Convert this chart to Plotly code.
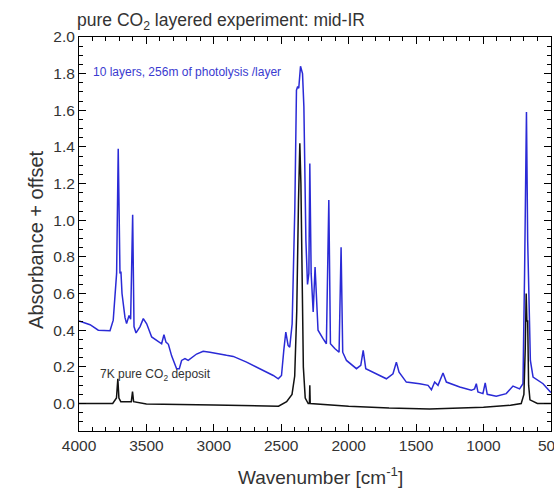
import plotly.graph_objects as go

# ---- data ----
# blue: 10 layers, 256m of photolysis / layer (offset spectrum)
blue_wn = [4000, 3918, 3857, 3770, 3746, 3721, 3709, 3701, 3696, 3689, 3681, 3659, 3647,
           3629, 3617, 3602, 3592, 3577, 3547, 3523, 3498, 3461, 3411, 3387, 3370, 3355,
           3337, 3313, 3276, 3256, 3239, 3214, 3190, 3128, 3079, 3029, 2906, 2856, 2757,
           2658, 2559, 2522, 2498, 2481, 2466, 2449, 2437, 2419, 2399, 2387, 2378, 2370,
           2357, 2342, 2332, 2317, 2305, 2295, 2288, 2278, 2263, 2249, 2239, 2227, 2190,
           2165, 2147, 2135, 2103, 2071, 2056, 2044, 2016, 1942, 1910, 1892, 1873, 1794,
           1720, 1671, 1646, 1626, 1572, 1473, 1411, 1386, 1362, 1337, 1300, 1275, 1176,
           1090, 1066, 1053, 1041, 1004, 987, 972, 905, 831, 781, 732, 707, 695, 681, 672,
           662, 652, 632, 558, 500]
blue_abs = [0.45, 0.43, 0.40, 0.397, 0.455, 0.71, 1.39, 0.80, 0.71, 0.72, 0.60, 0.47, 0.436,
            0.48, 0.46, 1.03, 0.42, 0.385, 0.42, 0.463, 0.435, 0.363, 0.335, 0.326, 0.375,
            0.335, 0.323, 0.26, 0.19, 0.19, 0.235, 0.245, 0.235, 0.27, 0.285, 0.28, 0.263,
            0.257, 0.226, 0.19, 0.153, 0.135, 0.153, 0.29, 0.39, 0.317, 0.307, 0.435, 1.07,
            1.71, 1.73, 1.72, 1.84, 1.80, 1.62, 0.89, 0.65, 0.71, 1.31, 0.71, 0.50, 0.745,
            0.56, 0.40, 0.354, 0.326, 1.11, 0.326, 0.30, 0.28, 0.853, 0.28, 0.235, 0.19,
            0.208, 0.29, 0.19, 0.162, 0.135, 0.162, 0.226, 0.171, 0.117, 0.108, 0.099,
            0.075, 0.117, 0.099, 0.166, 0.117, 0.09, 0.072, 0.08, 0.108, 0.063, 0.054,
            0.112, 0.05, 0.04, 0.054, 0.095, 0.08, 0.108, 0.71, 1.59, 0.89, 0.47, 0.235,
            0.144, 0.108, 0.06]

# black: 7K pure CO2 deposit
black_wn = [4000, 3750, 3722, 3712, 3704, 3690, 3612, 3603, 3595, 3500, 3000, 2600, 2520,
            2460, 2420, 2400, 2385, 2372, 2362, 2354, 2346, 2336, 2322, 2300, 2291, 2288,
            2285, 2200, 2000, 1700, 1400, 1000, 800, 720, 700, 690, 683, 678, 672, 665,
            655, 600, 500]
black_abs = [0.0, 0.0, 0.03, 0.135, 0.03, 0.01, 0.01, 0.065, 0.01, -0.002, -0.008, -0.015,
             -0.015, 0.01, 0.05, 0.15, 0.5, 1.1, 1.42, 1.2, 0.7, 0.2, 0.03, 0.0, 0.0, 0.1,
             0.0, -0.005, -0.015, -0.025, -0.03, -0.02, -0.01, 0.0, 0.05, 0.3, 0.6, 0.45,
             0.45, 0.1, 0.02, 0.0, 0.0]

x_ticks = [4000, 3500, 3000, 2500, 2000, 1500, 1000, 500]
y_ticks = [0.0, 0.2, 0.4, 0.6, 0.8, 1.0, 1.2, 1.4, 1.6, 1.8, 2.0]

FONT = "Liberation Sans, Arial, sans-serif"
GREY = "#333333"

fig = go.Figure()
fig.add_trace(go.Scatter(x=blue_wn, y=blue_abs, mode="lines",
                         line=dict(color="#2a2ad6", width=1.5), showlegend=False))
fig.add_trace(go.Scatter(x=black_wn, y=black_abs, mode="lines",
                         line=dict(color="#111111", width=1.5), showlegend=False))

axis_common = dict(showline=True, linecolor="black", linewidth=1, mirror="ticks",
                   ticks="inside", ticklen=7, tickcolor="black", showgrid=False,
                   zeroline=False, automargin=False,
                   tickfont=dict(family=FONT, size=15.5, color=GREY))

fig.update_xaxes(range=[4000, 499], tickvals=x_ticks, ticklabeloverflow="allow",
                 minor=dict(ticks="inside", ticklen=4, dtick=100, tick0=0, tickcolor="black"),
                 **axis_common)
fig.update_yaxes(range=[-0.15, 2.0], tickvals=y_ticks, tickformat=".1f",
                 minor=dict(ticks="inside", ticklen=4, dtick=0.05, tick0=0, tickcolor="black"),
                 **axis_common)

fig.update_layout(
    width=554, height=490,
    margin=dict(l=79, r=3, t=37, b=59, autoexpand=False),
    paper_bgcolor="white", plot_bgcolor="white",
    annotations=[
        dict(text="pure CO<sub>2</sub> layered experiment: mid-IR", xref="paper", yref="paper",
             x=-0.0085, y=1.0, xanchor="left", yanchor="middle", yshift=16, showarrow=False,
             font=dict(family=FONT, size=17.5, color=GREY)),
        dict(text="10 layers, 256m of photolysis /layer", xref="x", yref="y",
             x=3913, y=1.81, xanchor="left", yanchor="middle", showarrow=False,
             font=dict(family=FONT, size=12, color="#3a3ad0")),
        dict(text="7K pure CO<sub>2</sub> deposit", xref="x", yref="y",
             x=3857, y=0.153, xanchor="left", yanchor="middle", showarrow=False,
             font=dict(family=FONT, size=12, color=GREY)),
        dict(text="Absorbance + offset", xref="paper", yref="paper",
             x=-0.091, y=0.485, xanchor="center", yanchor="middle", textangle=-90,
             showarrow=False, font=dict(family=FONT, size=20, color=GREY)),
        dict(text="Wavenumber [cm<sup>-1</sup>]", xref="paper", yref="paper",
             x=0.511, y=-0.114, xanchor="center", yanchor="middle", showarrow=False,
             font=dict(family=FONT, size=19, color=GREY)),
    ],
)

fig.write_html("out.html", config={"displayModeBar": False},
               post_script="document.body.style.margin='0px';")
